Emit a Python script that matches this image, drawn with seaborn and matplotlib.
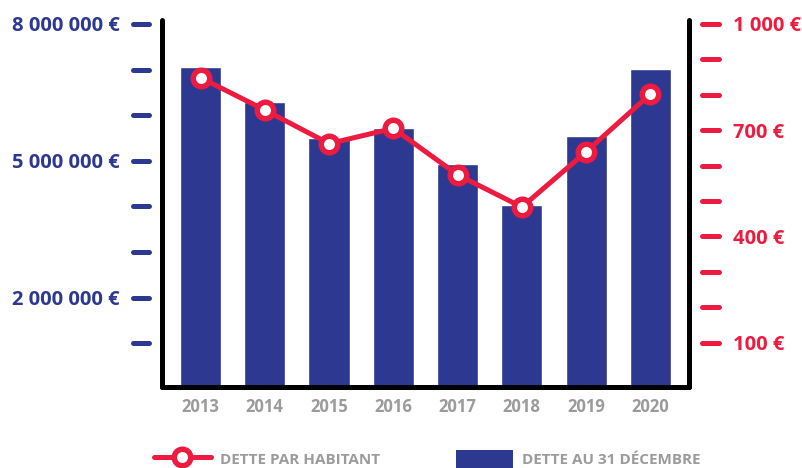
import matplotlib
matplotlib.use('Agg')
import matplotlib.pyplot as plt
import seaborn as sns
from matplotlib.lines import Line2D
from matplotlib.patches import Patch
from matplotlib.markers import MarkerStyle

# donnees
annees = ['2013', '2014', '2015', '2016', '2017', '2018', '2019', '2020']
dette_totale = [7.06e6, 6.29e6, 5.51e6, 5.72e6, 4.93e6, 4.03e6, 5.55e6, 7.01e6]
dette_habitant = [848, 757, 662, 705, 574, 483, 639, 802]

ticks_gauche = [1e6, 2e6, 3e6, 4e6, 5e6, 6e6, 7e6, 8e6]
labels_gauche = ['', '2 000 000 €', '', '', '5 000 000 €', '', '', '8 000 000 €']
ticks_droite = [100, 200, 300, 400, 500, 600, 700, 800, 900, 1000]
labels_droite = ['100 €', '', '', '400 €', '', '', '700 €', '', '', '1 000 €']

bleu = '#2D3990'
rouge = '#EC1B3F'
gris = '#9B9B9B'

sns.set_style('white')
plt.rcParams['font.family'] = ['Open Sans', 'DejaVu Sans']
plt.rcParams['font.weight'] = 'bold'

fig = plt.figure(figsize=(8.03, 4.68), dpi=100)
pos = [0.2017, 0.1731, 0.6563, 0.7842]
ax = fig.add_axes(pos)

# barres : dette au 31 decembre
sns.barplot(x=annees, y=dette_totale, color=bleu, saturation=1, width=0.64, ax=ax)

# ligne : dette par habitant
ax2 = ax.twinx()
sns.pointplot(x=annees, y=dette_habitant, color=rouge, errorbar=None, ax=ax2,
              markers='o', linestyles='-', markersize=11.9, markeredgewidth=3.95,
              markerfacecolor='white', markeredgecolor=rouge, linewidth=3.6)

ax.set_xlim(-0.6, 7.6)
ax.set_ylim(0.04e6, 8.088e6)
ax2.set_ylim(-25, 1011)


def arrondir(axe):
    for t in axe.get_major_ticks():
        for ln in (t.tick1line, t.tick2line):
            ln.set_marker(MarkerStyle(ln.get_marker(), capstyle='round'))


# axe gauche
ax.set_yticks(ticks_gauche)
ax.set_yticklabels(labels_gauche)
ax.spines['left'].set_position(('outward', 9.4))
for s in ax.spines.values():
    s.set_visible(False)
ax.tick_params(axis='y', left=True, direction='out', length=11.5, width=3.6,
               color=bleu, labelcolor=bleu, labelsize=14.5, pad=9.4)
arrondir(ax.yaxis)

# axe droit
ax2.set_yticks(ticks_droite)
ax2.set_yticklabels(labels_droite)
ax2.spines['right'].set_position(('outward', 9.4))
for s in ax2.spines.values():
    s.set_visible(False)
ax2.tick_params(axis='y', right=True, direction='out', length=12, width=3.6,
                color=rouge, labelcolor=rouge, labelsize=14.5, pad=10)
arrondir(ax2.yaxis)

# annees
ax.tick_params(axis='x', length=0, labelsize=12, labelcolor=gris, pad=8)
ax2.tick_params(axis='x', length=0)
ax.set_xlabel('')
ax.set_ylabel('')
ax2.set_xlabel('')
ax2.set_ylabel('')
for lab in ax.get_xticklabels() + ax.get_yticklabels() + ax2.get_yticklabels():
    lab.set_fontweight('bold')

# cadre noir
cadre = fig.add_axes(pos)
cadre.set_facecolor('none')
cadre.set_xticks([])
cadre.set_yticks([])
cadre.spines['top'].set_visible(False)
for nom in ['left', 'right', 'bottom']:
    cadre.spines[nom].set_color('black')
    cadre.spines[nom].set_linewidth(3.6)
    cadre.spines[nom].set_capstyle('round')
    cadre.spines[nom].set_joinstyle('round')

# legende
poignees = [
    Line2D([], [], color=rouge, linewidth=3.6, marker='o', markersize=11.9,
           markeredgewidth=3.95, markerfacecolor='white', markeredgecolor=rouge),
    Patch(facecolor=bleu, edgecolor='none'),
]
leg = fig.legend(poignees, ['DETTE PAR HABITANT', 'DETTE AU 31 DÉCEMBRE'],
                 loc='center left', bbox_to_anchor=(154 / 803, 1 - 459 / 468),
                 ncol=2, frameon=False, borderpad=0, borderaxespad=0,
                 handlelength=3.7, handleheight=1.35, handletextpad=0.6,
                 columnspacing=5.0, prop={'size': 11, 'weight': 'bold'})
for txt in leg.get_texts():
    txt.set_color(gris)

plt.savefig('out.png', dpi=100)
